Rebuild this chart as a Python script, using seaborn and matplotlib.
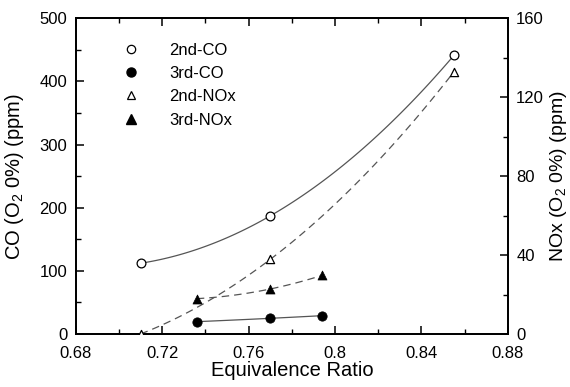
import numpy as np
import pandas as pd
import matplotlib
matplotlib.use("Agg")
import matplotlib.pyplot as plt
from matplotlib.lines import Line2D
from matplotlib.ticker import MultipleLocator
import seaborn as sns

# data
phi_2nd = [0.710, 0.770, 0.855]
co_2nd = [112, 187, 441]
nox_2nd = [0.0, 37.8, 132.8]

phi_3rd = [0.736, 0.770, 0.794]
co_3rd = [19.5, 24.8, 29.0]
nox_3rd = [17.9, 22.8, 29.7]

sns.set_style("ticks")
plt.rcParams["font.family"] = ["Liberation Sans", "DejaVu Sans"]
plt.rcParams["mathtext.fontset"] = "custom"
plt.rcParams["mathtext.rm"] = "Liberation Sans"
plt.rcParams["mathtext.it"] = "Liberation Sans"
plt.rcParams["text.color"] = "black"
plt.rcParams["axes.labelcolor"] = "black"
plt.rcParams["xtick.color"] = "black"
plt.rcParams["ytick.color"] = "black"

fig = plt.figure(figsize=(5.7, 3.87), dpi=100)
ax = fig.add_axes([0.133, 0.137, 0.758, 0.816])
ax2 = ax.twinx()


def trend(x, y, deg=2):
    xs = np.linspace(min(x), max(x), 100)
    return xs, np.polyval(np.polyfit(x, y, deg), xs)


line_col = "#555555"
xs, ys = trend(phi_2nd, co_2nd)
ax.plot(xs, ys, color=line_col, lw=0.9)
xs, ys = trend(phi_3rd, co_3rd)
ax.plot(xs, ys, color=line_col, lw=0.9)
xs, ys = trend(phi_2nd, nox_2nd)
ax2.plot(xs, ys, color=line_col, lw=0.9, ls=(0, (6, 4)))
xs, ys = trend(phi_3rd, nox_3rd)
ax2.plot(xs, ys, color=line_col, lw=0.9, ls=(0, (6, 4)))

df2 = pd.DataFrame({"phi": phi_2nd, "co": co_2nd, "nox": nox_2nd})
df3 = pd.DataFrame({"phi": phi_3rd, "co": co_3rd, "nox": nox_3rd})

sns.scatterplot(data=df2, x="phi", y="co", ax=ax, marker="o", s=40,
                facecolor="white", edgecolor="black", linewidth=0.9, zorder=5)
sns.scatterplot(data=df3, x="phi", y="co", ax=ax, marker="o", s=45,
                color="black", edgecolor="black", zorder=5)
sns.scatterplot(data=df2, x="phi", y="nox", ax=ax2, marker="^", s=35,
                facecolor="white", edgecolor="black", linewidth=0.9, zorder=5)
sns.scatterplot(data=df3, x="phi", y="nox", ax=ax2, marker="^", s=42,
                color="black", edgecolor="black", zorder=5)

ax.set_xlim(0.68, 0.88)
ax.set_ylim(0, 500)
ax2.set_ylim(0, 160)
ax.set_xticks([0.68, 0.72, 0.76, 0.8, 0.84, 0.88])
ax.set_xticklabels(["0.68", "0.72", "0.76", "0.8", "0.84", "0.88"])
ax.xaxis.set_minor_locator(MultipleLocator(0.02))
ax.yaxis.set_major_locator(MultipleLocator(100))
ax.yaxis.set_minor_locator(MultipleLocator(50))
ax2.yaxis.set_major_locator(MultipleLocator(40))
ax2.yaxis.set_minor_locator(MultipleLocator(20))

for a in (ax, ax2):
    for sp in a.spines.values():
        sp.set_visible(True)
        sp.set_linewidth(1.3)
        sp.set_color("black")
ax.tick_params(axis="both", which="major", direction="in", length=6, width=1.1,
               labelsize=12, top=True, right=False)
ax.tick_params(axis="x", which="major", pad=9)
ax.tick_params(axis="y", which="major", pad=6)
ax.tick_params(axis="both", which="minor", direction="in", length=3.5, width=1.0,
               top=True, right=False)
ax2.tick_params(axis="y", which="major", direction="in", length=6, width=1.1,
                labelsize=12, pad=6)
ax2.tick_params(axis="y", which="minor", direction="in", length=3.5, width=1.0)

ax.set_xlabel("Equivalence Ratio", fontsize=14.5, labelpad=0)
ax.set_ylabel("CO (O$_2$ 0%) (ppm)", fontsize=14.5, labelpad=10)
ax2.set_ylabel("NOx (O$_2$ 0%) (ppm)", fontsize=14, labelpad=3)

handles = [
    Line2D([], [], ls="none", marker="o", ms=6, mfc="white", mec="black", mew=0.9),
    Line2D([], [], ls="none", marker="o", ms=6.5, mfc="black", mec="black"),
    Line2D([], [], ls="none", marker="^", ms=5.5, mfc="white", mec="black", mew=0.9),
    Line2D([], [], ls="none", marker="^", ms=6.5, mfc="black", mec="black"),
]
ax.legend(handles, ["2nd-CO", "3rd-CO", "2nd-NOx", "3rd-NOx"], loc="upper left",
          bbox_to_anchor=(0.073, 0.97), frameon=False, fontsize=12,
          handlelength=1, handletextpad=1.8, labelspacing=0.5)

fig.savefig("out.png", dpi=100)
